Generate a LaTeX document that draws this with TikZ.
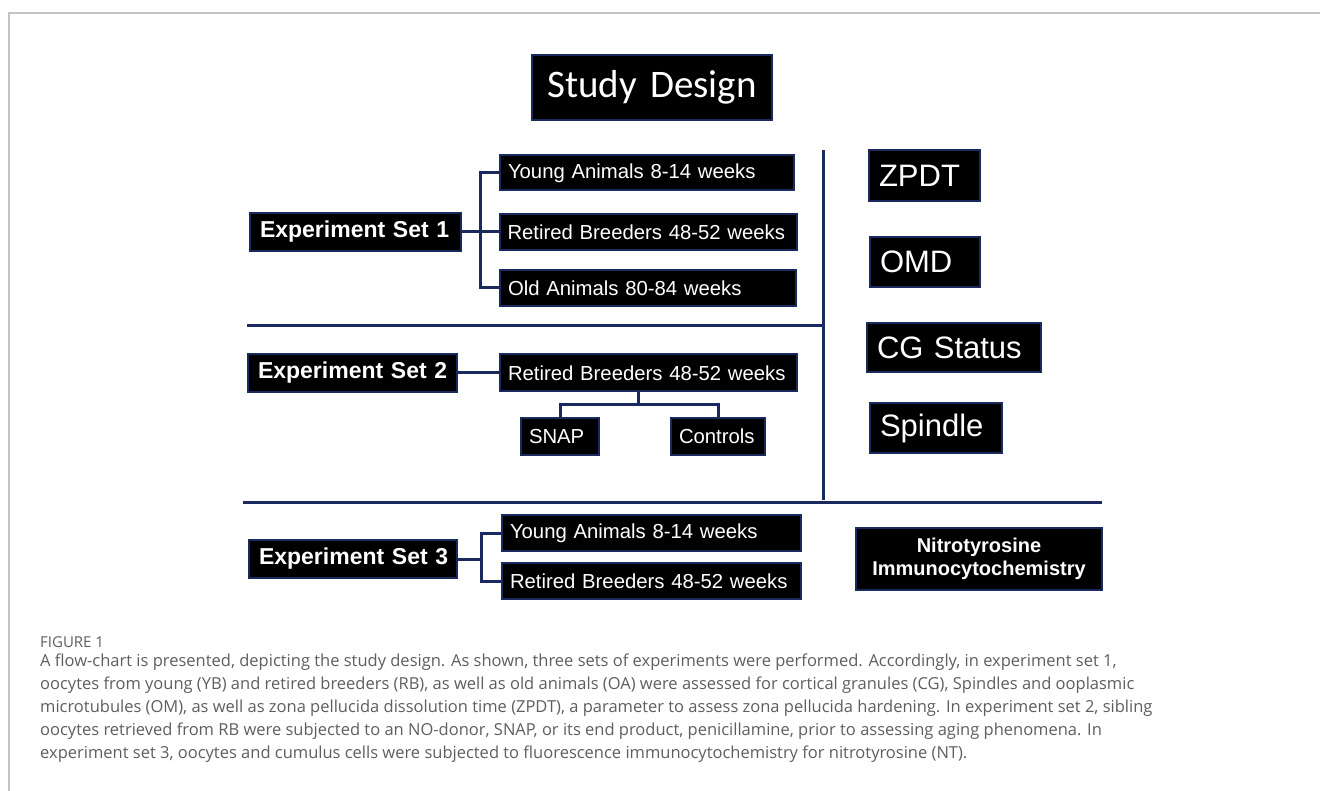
\documentclass[tikz,border=0pt]{standalone}
\usepackage{fontspec}
\newfontfamily\arialfont{Liberation Sans}
\newfontfamily\calibrifont{Carlito}
\newfontfamily\capfont{Open Sans}
\definecolor{navy}{HTML}{1B2A5E}
\definecolor{capgray}{HTML}{5E5E5E}
\definecolor{framegray}{HTML}{C4C4C4}

\begin{document}
\begin{tikzpicture}
    [
        x=1pt, y=-1pt,
        box/.style={draw=navy, fill=black, line width=2pt, text=white, inner xsep=8pt, inner ysep=0pt, align=left, font=\arialfont\fontsize{20.3}{24}\selectfont},
        setbox/.style={box, inner xsep=10pt, font=\arialfont\bfseries\fontsize{23}{27}\selectfont},
        bigbox/.style={box, inner xsep=10pt, font=\arialfont\fontsize{31}{36}\selectfont},
        link/.style={draw=navy, line width=3pt},
        rule/.style={draw=navy, line width=3pt},
    ]
    \useasboundingbox (0,0) rectangle (1320,791);

    % frame
    \coordinate (f1) at (1320,13);
    \coordinate (f2) at (9,13);
    \coordinate (f3) at (9,791);
    \draw [framegray, line width=1.5pt] (f1) -- (f2) -- (f3);

    % title
    \node (title) at (652,87.5) [box, align=center, text width=224pt, minimum height=65pt, font=\calibrifont\fontsize{39}{44}\selectfont] {Study~Design};

    % set 1
    \node (exp1) at (355.5,232) [setbox, text width=191pt, minimum height=38pt] {Experiment~Set~1};
    \node (ya1)  at (647,173)   [box, text width=278pt, minimum height=35pt] {\mbox{Young Animals 8-14 weeks}};
    \node (rb1)  at (648,232)   [box, text width=281pt, minimum height=36pt] {\mbox{Retired Breeders 48-52 weeks}};
    \node (oa1)  at (648,288)   [box, text width=280pt, minimum height=36pt] {\mbox{Old Animals 80-84 weeks}};
    \coordinate (j1) at (480,232);

    \path (exp1) edge [link] (rb1);
    \draw [link] (ya1) -| (j1) |- (oa1);

    % set 2
    \node (exp2) at (352.5,373) [setbox, text width=189pt, minimum height=38pt] {Experiment~Set~2};
    \node (rb2)  at (648.5,373) [box, text width=281pt, minimum height=37pt] {\mbox{Retired Breeders 48-52 weeks}};
    \node (snap) at (560,436.5) [box, text width=62pt, minimum height=37pt] {SNAP};
    \node (ctrl) at (718,436.5) [box, text width=78pt, minimum height=37pt] {Controls};
    \coordinate (fork) at (638,405);

    \path (exp2) edge [link] (rb2);
    \draw [link] (fork |- rb2.south) -- (fork);
    \draw [link] (snap) |- (fork) -| (ctrl);

    % set 3
    \node (exp3) at (353,559)   [setbox, text width=188pt, minimum height=38pt] {Experiment~Set~3};
    \node (ya3)  at (651.5,533) [box, text width=283pt, minimum height=36pt] {\mbox{Young Animals 8-14 weeks}};
    \node (rb3)  at (651.5,581) [box, text width=283pt, minimum height=36pt] {\mbox{Retired Breeders 48-52 weeks}};
    \coordinate (j3) at (481,559);

    \path (exp3) edge [link] (j3);
    \draw [link] (ya3) -| (j3) |- (rb3);

    % dividers
    \coordinate (d1) at (247,326);
    \coordinate (d2) at (823,326);
    \coordinate (d3) at (823,150);
    \coordinate (d4) at (823,500);
    \coordinate (d5) at (243,502);
    \coordinate (d6) at (1102,502);
    \draw [rule] (d1) -- (d2);
    \draw [rule] (d3) -- (d4);
    \draw [rule] (d5) -- (d6);

    % read-outs
    \node (zpdt)    at (924.5,175.5) [bigbox, text width=91pt,  minimum height=51pt] {ZPDT};
    \node (omd)     at (925,262)     [bigbox, text width=90pt,  minimum height=50pt] {OMD};
    \node (cg)      at (954,347.5)   [bigbox, text width=154pt, minimum height=49pt] {CG~Status};
    \node (spindle) at (936,428)     [bigbox, text width=112pt, minimum height=50pt] {Spindle};
    \node (nt)      at (979,559)     [setbox, align=center, text width=226pt, minimum height=62pt, font=\arialfont\bfseries\fontsize{20}{23}\selectfont] {Nitrotyrosine\\Immunocytochemistry};

    % caption
    \node (fig) at (40,642) [anchor=west, inner sep=0pt, text=capgray, font=\capfont\fontsize{15}{17}\selectfont] {FIGURE 1};
    \node (cap) at (40,653.5) [anchor=north west, inner sep=0pt, align=left, text=capgray, font=\capfont\fontsize{16.5}{23}\selectfont]
        {A flow-chart is presented, depicting the study design. As shown, three sets of experiments were performed. Accordingly, in experiment set 1,\\
         oocytes from young (YB) and retired breeders (RB), as well as old animals (OA) were assessed for cortical granules (CG), Spindles and ooplasmic\\
         microtubules (OM), as well as zona pellucida dissolution time (ZPDT), a parameter to assess zona pellucida hardening. In experiment set 2, sibling\\
         oocytes retrieved from RB were subjected to an NO-donor, SNAP, or its end product, penicillamine, prior to assessing aging phenomena. In\\
         experiment set 3, oocytes and cumulus cells were subjected to fluorescence immunocytochemistry for nitrotyrosine (NT).};

\end{tikzpicture}
\end{document}
